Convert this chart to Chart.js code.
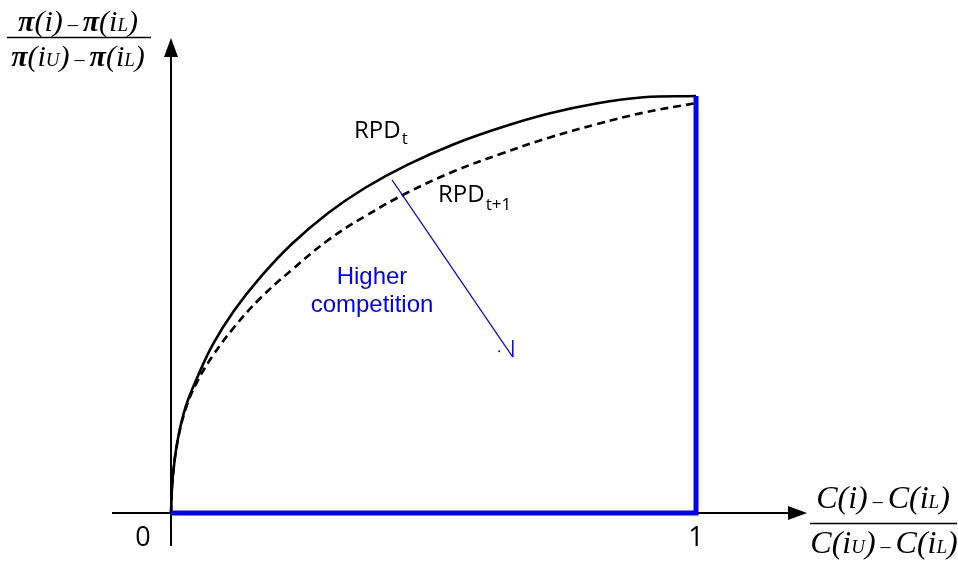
<!DOCTYPE html>
<html>
<head>
<meta charset="utf-8">
<script src="https://cdn.jsdelivr.net/npm/chart.js@4.4.1/dist/chart.umd.min.js"></script>
<style>
  html, body { margin: 0; padding: 0; background: #fff; }
  #wrap { width: 958px; height: 565px; }
</style>
</head>
<body>
<div id="wrap"><canvas id="rpdChart" width="958" height="565"></canvas></div>
<script>
// curve readings, x = relative cost, y = relative profit
const rpdT = [
  {x: 0, y: 0}, {x: 0.003, y: 0.08}, {x: 0.012, y: 0.17}, {x: 0.028, y: 0.255},
  {x: 0.05, y: 0.325}, {x: 0.08, y: 0.405}, {x: 0.12, y: 0.485}, {x: 0.17, y: 0.565},
  {x: 0.23, y: 0.645}, {x: 0.3, y: 0.72}, {x: 0.37, y: 0.78}, {x: 0.45, y: 0.835},
  {x: 0.54, y: 0.885}, {x: 0.63, y: 0.925}, {x: 0.72, y: 0.958}, {x: 0.81, y: 0.982},
  {x: 0.9, y: 0.997}, {x: 1, y: 1.0}
];
const rpdT1 = [
  {x: 0, y: 0}, {x: 0.003, y: 0.08}, {x: 0.012, y: 0.168}, {x: 0.028, y: 0.25},
  {x: 0.05, y: 0.315}, {x: 0.08, y: 0.378}, {x: 0.12, y: 0.445}, {x: 0.17, y: 0.515},
  {x: 0.23, y: 0.583}, {x: 0.3, y: 0.655}, {x: 0.37, y: 0.712}, {x: 0.45, y: 0.768},
  {x: 0.54, y: 0.82}, {x: 0.63, y: 0.862}, {x: 0.72, y: 0.9}, {x: 0.81, y: 0.932},
  {x: 0.9, y: 0.96}, {x: 1, y: 0.983}
];
const boundary = [{x: 0, y: 0}, {x: 1, y: 0}, {x: 1, y: 1}];
const shiftArrow = [{x: 0.421, y: 0.799}, {x: 0.651, y: 0.374}];
const arrowTick = [{x: 0.651, y: 0.415}, {x: 0.651, y: 0.374}];
const arrowDot = [{x: 0.625, y: 0.388}];
const tickLabels = ['0', '1'];
const tickValues = [0, 1];

const BLUE = '#0000ff';

function drawParts(ctx, parts, cx, baseline) {
  // parts: [text, font, dy]
  let total = 0;
  parts.forEach(p => { ctx.font = p[1]; total += ctx.measureText(p[0]).width; });
  let x = cx - total / 2;
  ctx.textAlign = 'left';
  ctx.textBaseline = 'alphabetic';
  parts.forEach(p => {
    ctx.font = p[1];
    ctx.fillText(p[0], x, baseline + (p[2] || 0));
    x += ctx.measureText(p[0]).width;
  });
}

const decorPlugin = {
  id: 'decor',
  beforeDatasetsDraw(chart) {
    const ctx = chart.ctx;
    const xs = chart.scales.x, ys = chart.scales.y;
    const x0 = xs.getPixelForValue(0), y0 = ys.getPixelForValue(0);
    ctx.save();
    ctx.strokeStyle = '#000';
    ctx.fillStyle = '#000';
    ctx.lineWidth = 2;
    // y axis
    ctx.beginPath();
    ctx.moveTo(x0, 546);
    ctx.lineTo(x0, 56);
    ctx.stroke();
    ctx.beginPath();
    ctx.moveTo(x0, 38);
    ctx.lineTo(x0 - 7, 57);
    ctx.lineTo(x0 + 7, 57);
    ctx.closePath();
    ctx.fill();
    // x axis
    ctx.beginPath();
    ctx.moveTo(112, y0);
    ctx.lineTo(790, y0);
    ctx.stroke();
    ctx.beginPath();
    ctx.moveTo(807, y0);
    ctx.lineTo(788, y0 - 7);
    ctx.lineTo(788, y0 + 7);
    ctx.closePath();
    ctx.fill();
    ctx.restore();
  },
  afterDatasetsDraw(chart) {
    const ctx = chart.ctx;
    const xs = chart.scales.x, ys = chart.scales.y;
    ctx.save();
    ctx.fillStyle = '#000';
    // tick labels
    ctx.font = '27px "Open Sans"';
    ctx.textAlign = 'center';
    ctx.textBaseline = 'middle';
    tickLabels.forEach((t, i) => {
      const px = tickValues[i] === 0 ? xs.getPixelForValue(0) - 28 : xs.getPixelForValue(tickValues[i]);
      ctx.fillText(t, px, ys.getPixelForValue(0) + 25);
    });

    // curve labels
    const big = '24px "Open Sans"', sub = '17px "Open Sans"';
    ctx.textAlign = 'left';
    ctx.textBaseline = 'alphabetic';
    ctx.font = big;
    ctx.fillText('RPD', 354, 138);
    let w = ctx.measureText('RPD').width;
    ctx.font = sub;
    ctx.fillText('t', 354 + w + 1, 144);
    ctx.font = big;
    ctx.fillText('RPD', 438, 202);
    w = ctx.measureText('RPD').width;
    ctx.font = sub;
    ctx.fillText('t+1', 438 + w + 1, 210);

    // competition note
    ctx.fillStyle = BLUE;
    ctx.font = '24px "Liberation Sans"';
    ctx.textAlign = 'center';
    ctx.fillText('Higher', 372, 284);
    ctx.fillText('competition', 372, 312);

    // axis titles as fractions
    ctx.fillStyle = '#000';
    const it = 'italic 30px "Liberation Serif"';
    const pi = 'italic bold 30px "Liberation Serif"';
    const sm = 'italic 19px "Liberation Serif"';
    const dash = '20px "Liberation Serif"';
    drawParts(ctx, [['\u03c0', pi], ['(', it], ['i', it], [')', it], [' \u2013 ', dash], ['\u03c0', pi], ['(', it], ['i', it], ['L', sm], [')', it]], 78, 31);
    drawParts(ctx, [['\u03c0', pi], ['(', it], ['i', it], ['U', sm], [')', it], [' \u2013 ', dash], ['\u03c0', pi], ['(', it], ['i', it], ['L', sm], [')', it]], 78, 66);
    ctx.lineWidth = 1.5;
    ctx.beginPath();
    ctx.moveTo(7, 37.5);
    ctx.lineTo(151, 37.5);
    ctx.stroke();

    const itC = 'italic 32px "Liberation Serif"';
    drawParts(ctx, [['C', itC], ['(', itC], ['i', itC], [')', itC], [' \u2013 ', dash], ['C', itC], ['(', itC], ['i', itC], ['L', sm], [')', itC]], 883, 508);
    drawParts(ctx, [['C', itC], ['(', itC], ['i', itC], ['U', sm], [')', itC], [' \u2013 ', dash], ['C', itC], ['(', itC], ['i', itC], ['L', sm], [')', itC]], 884, 553);
    ctx.beginPath();
    ctx.moveTo(810, 523.5);
    ctx.lineTo(957, 523.5);
    ctx.stroke();
    ctx.restore();
  }
};

new Chart(document.getElementById('rpdChart'), {
  type: 'scatter',
  data: {
    datasets: [
      { data: rpdT, showLine: true, borderColor: '#000', borderWidth: 2.6, pointRadius: 0,
        tension: 0.4, order: 2 },
      { data: rpdT1, showLine: true, borderColor: '#000', borderWidth: 2.6, borderDash: [8, 5],
        pointRadius: 0, tension: 0.4, order: 3 },
      { data: boundary, showLine: true, borderColor: BLUE, borderWidth: 5, pointRadius: 0, order: 1,
        borderJoinStyle: 'miter' },
      { data: shiftArrow, showLine: true, borderColor: BLUE, borderWidth: 1.2, pointRadius: 0, order: 0 },
      { data: arrowTick, showLine: true, borderColor: BLUE, borderWidth: 1.5, pointRadius: 0, order: 0 },
      { data: arrowDot, showLine: false, backgroundColor: BLUE, borderWidth: 0, pointRadius: 1, order: 0 }
    ]
  },
  options: {
    responsive: false,
    animation: false,
    layout: { padding: 0, autoPadding: false },
    plugins: { legend: { display: false }, tooltip: { enabled: false } },
    scales: {
      x: { type: 'linear', display: false, min: -0.3257, max: 1.4990 },
      y: { type: 'linear', display: false, min: -0.1247, max: 1.2302 }
    }
  },
  plugins: [decorPlugin]
});
</script>
</body>
</html>
